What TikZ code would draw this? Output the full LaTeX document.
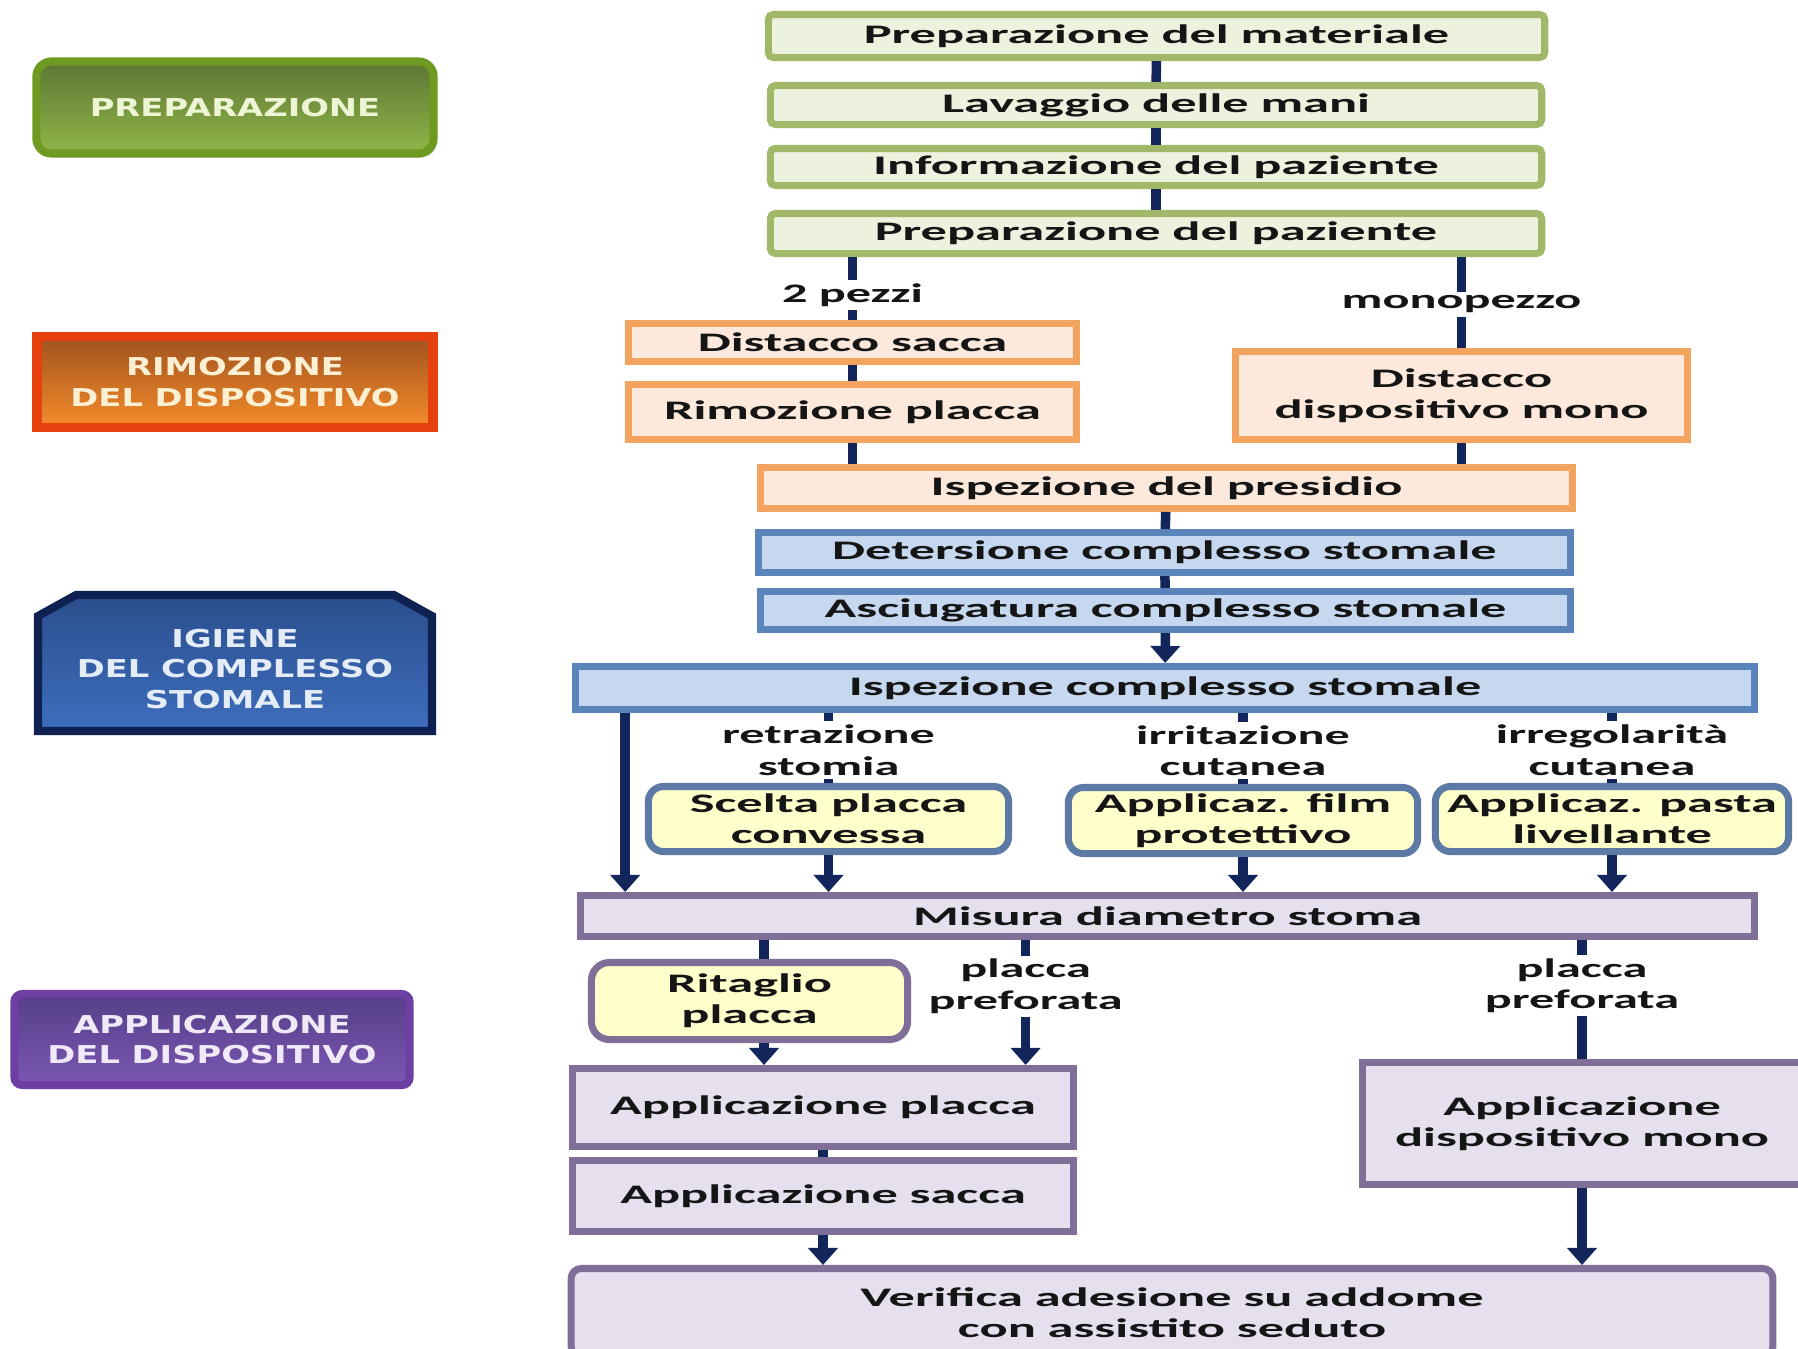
\documentclass[tikz,border=0pt]{standalone}
\usepackage{fontspec}
\usetikzlibrary{arrows.meta,shadows}
\newfontfamily\bxfont{Carlito}[FakeStretch=1.96]
\newfontfamily\lbxfont{Carlito}[FakeStretch=1.88]
\newfontfamily\lbfont{DejaVu Sans}[FakeStretch=1.37]
\definecolor{gbd}{HTML}{A0B868}
\definecolor{gfill}{HTML}{EDF2DF}
\definecolor{obd}{HTML}{F2A35E}
\definecolor{ofill}{HTML}{FCE9DC}
\definecolor{bbd}{HTML}{5A84BA}
\definecolor{bfill}{HTML}{C6D8EF}
\definecolor{ybd}{HTML}{5C7AA5}
\definecolor{yfill}{HTML}{FFFFCC}
\definecolor{pbd}{HTML}{7E6E98}
\definecolor{pfill}{HTML}{E6E0EE}
\definecolor{navy}{HTML}{13265C}
\definecolor{txt}{HTML}{151515}
\definecolor{prepbd}{HTML}{6F9A22}
\definecolor{preptop}{HTML}{5D7634}
\definecolor{prepbot}{HTML}{90B648}
\definecolor{preptx}{HTML}{EEF5D5}
\definecolor{rimbd}{HTML}{E6400E}
\definecolor{rimtop}{HTML}{A0521E}
\definecolor{rimbot}{HTML}{F58C2B}
\definecolor{rimtx}{HTML}{FCEFD2}
\definecolor{igbd}{HTML}{0E2150}
\definecolor{igtop}{HTML}{2A4E8C}
\definecolor{igbot}{HTML}{3E6EBD}
\definecolor{igtx}{HTML}{E4ECF8}
\definecolor{apbd}{HTML}{6E3FA3}
\definecolor{aptop}{HTML}{553F86}
\definecolor{apbot}{HTML}{7B57B4}
\definecolor{aptx}{HTML}{F0EAF8}
\begin{document}
\begin{tikzpicture}[x=0.01cm,y=-0.01cm,
  box/.style={draw, line width=2pt, inner sep=0pt, align=center, text=txt,
    font=\bxfont\bfseries\fontsize{7.6}{8.9}\selectfont},
  gbox/.style={box, draw=gbd, fill=gfill, rounded corners=0.05cm},
  obox/.style={box, draw=obd, fill=ofill},
  bbox/.style={box, draw=bbd, fill=bfill},
  ybox/.style={box, draw=ybd, fill=yfill, rounded corners=0.15cm},
  rbox/.style={box, draw=pbd, fill=yfill, rounded corners=0.18cm},
  pbox/.style={box, draw=pbd, fill=pfill},
  conn/.style={draw=navy, line width=2.7pt},
  arr/.style={conn, -{Triangle[width=0.29cm,length=0.17cm]}},
  lab/.style={fill=white, inner sep=1pt, align=center, text=txt,
    font=\lbxfont\bfseries\fontsize{7.6}{8.9}\selectfont},
  lbl/.style={line width=2.3pt, align=center, inner sep=0pt,
    font=\lbfont\bfseries\fontsize{7}{8.8}\selectfont,
    drop shadow={opacity=0.25, shadow xshift=0.03cm, shadow yshift=-0.04cm}},
  lbltext/.style={align=center, inner sep=0pt,
    font=\lbfont\bfseries\fontsize{7}{8.8}\selectfont}
]
\useasboundingbox (0,0) rectangle (1798,1348);
\fill[white] (0,0) rectangle (1798,1348);

% left phase labels
\node[lbl, draw=prepbd, top color=preptop, bottom color=prepbot, text=preptx,
  rounded corners=0.15cm, minimum width=3.97cm, minimum height=0.92cm]
  (lprep) at (235,107.5) {PREPARAZIONE};
\node[lbl, draw=rimbd, top color=rimtop, bottom color=rimbot, text=rimtx,
  line width=2.8pt, minimum width=3.95cm, minimum height=0.91cm]
  (lrim) at (235,382) {RIMOZIONE\\DEL DISPOSITIVO};
\path[draw=igbd, line width=2.3pt, top color=igtop, bottom color=igbot,
  drop shadow={opacity=0.25, shadow xshift=0.03cm, shadow yshift=-0.04cm}]
  (38,616) -- (76,595) -- (394,595) -- (432,616) -- (432,731) -- (38,731) -- cycle;
\node[lbltext, text=igtx] (ligi) at (235,669) {IGIENE\\DEL COMPLESSO\\STOMALE};
\node[lbl, draw=apbd, top color=aptop, bottom color=apbot, text=aptx,
  rounded corners=0.08cm, minimum width=3.95cm, minimum height=0.91cm]
  (lapp) at (212,1039.5) {APPLICAZIONE\\DEL DISPOSITIVO};

% main flow boxes
\node[gbox, minimum width=7.76cm, minimum height=0.43cm] (g1) at (1156.5,36) {Preparazione del materiale};
\node[gbox, minimum width=7.71cm, minimum height=0.39cm] (g2) at (1156,105) {Lavaggio delle mani};
\node[gbox, minimum width=7.71cm, minimum height=0.37cm] (g3) at (1156,167) {Informazione del paziente};
\node[gbox, minimum width=7.71cm, minimum height=0.40cm] (g4) at (1156,233.5) {Preparazione del paziente};

\node[obox, minimum width=4.48cm, minimum height=0.38cm] (ds) at (852.5,342.5) {Distacco sacca};
\node[obox, minimum width=4.48cm, minimum height=0.55cm] (rp) at (852.5,412) {Rimozione placca};
\node[obox, minimum width=4.52cm, minimum height=0.88cm] (dm) at (1461.5,395.5) {Distacco\\dispositivo mono};
\node[obox, minimum width=8.12cm, minimum height=0.41cm] (ip) at (1166.5,488) {Ispezione del presidio};

\node[bbox, minimum width=8.12cm, minimum height=0.40cm] (det) at (1164.5,552.5) {Detersione complesso stomale};
\node[bbox, minimum width=8.10cm, minimum height=0.38cm] (asc) at (1165.5,610.5) {Asciugatura complesso stomale};
\node[bbox, minimum width=11.79cm, minimum height=0.43cm] (isc) at (1165,688) {Ispezione complesso stomale};

\node[ybox, minimum width=3.60cm, minimum height=0.65cm] (sc) at (828.5,819) {Scelta placca\\convessa};
\node[ybox, minimum width=3.49cm, minimum height=0.66cm] (fp) at (1243,820.5) {Applicaz. film\\protettivo};
\node[ybox, minimum width=3.53cm, minimum height=0.65cm] (pl) at (1612,819) {Applicaz. pasta\\livellante};

\node[pbox, minimum width=11.74cm, minimum height=0.41cm] (mis) at (1167.5,916) {Misura diametro stoma};

\node[rbox, minimum width=3.16cm, minimum height=0.77cm] (rit) at (749.5,1001) {Ritaglio\\placca};
\node[pbox, minimum width=5.01cm, minimum height=0.78cm] (apl) at (823,1107.5) {Applicazione placca};
\node[pbox, minimum width=5.01cm, minimum height=0.71cm] (sac) at (823,1196) {Applicazione sacca};
\node[pbox, minimum width=4.39cm, minimum height=1.22cm] (mono) at (1582,1123.5) {Applicazione\\dispositivo mono};
\node[pbox, rounded corners=0.1cm, minimum width=12.01cm, minimum height=0.88cm] (ver) at (1172,1312.5) {Verifica adesione su addome\\con assistito seduto};

% connectors
\draw[conn] (g1) -- (g2);
\draw[conn] (g2) -- (g3);
\draw[conn] (g3) -- (g4);
\draw[conn] (ds |- g4.south) -- (ds.north) node[lab, pos=0.6] (l2p) {2 pezzi};
\draw[conn] (dm |- g4.south) -- (dm.north) node[lab, pos=0.52] (lmp) {monopezzo};
\draw[conn] (ds) -- (rp);
\draw[conn] (rp.south) -- (rp.south |- ip.north);
\draw[conn] (dm.south) -- (dm.south |- ip.north);
\draw[conn] (ip) -- (det);
\draw[conn] (det) -- (asc);
\draw[arr] (asc) -- (isc);

\coordinate (lx) at ([xshift=0.535cm]isc.south west);
\draw[arr] (lx) -- (lx |- mis.north);
\draw[conn] (sc |- isc.south) -- (sc.north) node[lab, pos=0.53] (lret) {retrazione\\stomia};
\draw[conn] (fp |- isc.south) -- (fp.north) node[lab, pos=0.53] (lirr) {irritazione\\cutanea};
\draw[conn] (pl |- isc.south) -- (pl.north) node[lab, pos=0.53] (lirg) {irregolarità\\cutanea};
\draw[arr] (sc) -- (sc |- mis.north);
\draw[arr] (fp) -- (fp |- mis.north);
\draw[arr] (pl) -- (pl |- mis.north);

\coordinate (rx) at ([xshift=0.145cm]rit.south);
\draw[conn] (rx |- mis.south) -- (rx |- rit.north);
\draw[arr] (rx) -- (rx |- apl.north);
\coordinate (px) at ([xshift=-0.515cm]apl.north east);
\draw[arr] (px |- mis.south) -- (px) node[lab, pos=0.37] (lpp1) {placca\\preforata};
\draw[conn] (mono |- mis.south) -- (mono.north) node[lab, pos=0.385] (lpp2) {placca\\preforata};
\draw[conn] (apl) -- (sac);
\draw[arr] (sac) -- (sac |- ver.north);
\draw[arr] (mono) -- (mono |- ver.north);
\end{tikzpicture}
\end{document}
